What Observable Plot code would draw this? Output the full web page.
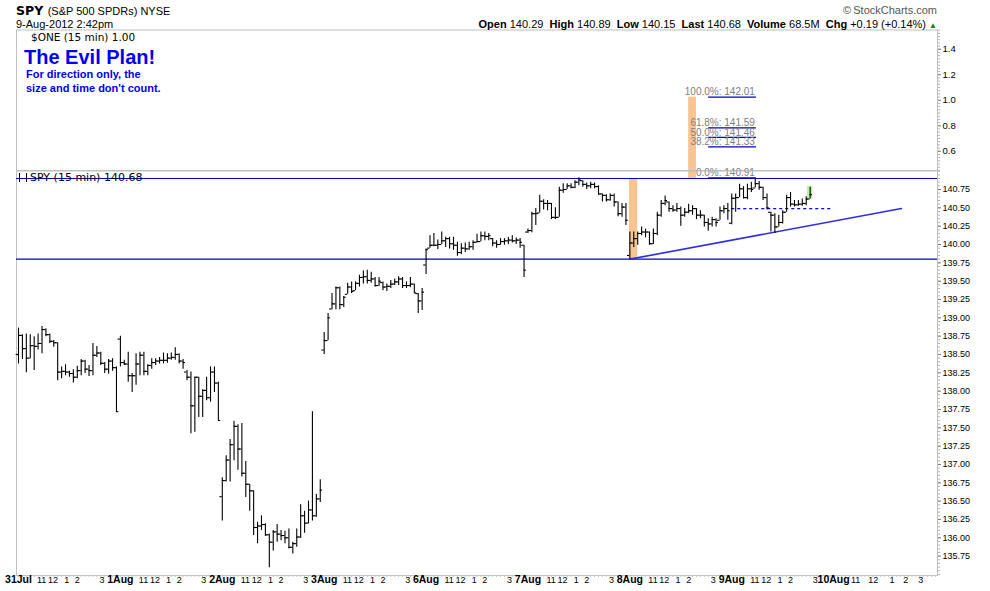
<!DOCTYPE html>
<html><head><meta charset="utf-8">
<script src="https://cdn.jsdelivr.net/npm/d3@7"></script>
<script src="https://cdn.jsdelivr.net/npm/@observablehq/plot@0.6"></script>
<style>
body{margin:0;background:#fff;font-family:"Liberation Sans",Arial,sans-serif;color:#000;}
#wrap{position:relative;width:990px;height:591px;overflow:hidden;}
.abs{position:absolute;white-space:nowrap;}
</style></head><body><div id="wrap"></div>
<script>
// ---- 15-minute OHLC bars, SPY, 31 Jul - 9 Aug 2012 (26 bars per session) ----
const open = [
// 31 Jul
138.50,138.76,138.58,138.45,138.62,138.61,138.65,138.84,138.77,138.68,138.66,138.26,138.27,138.26,138.24,138.19,138.28,138.41,138.30,138.28,138.49,138.52,138.38,138.30,138.41,138.32,
// 1 Aug
138.71,138.39,138.37,138.21,138.21,138.37,138.49,138.27,138.35,138.39,138.41,138.42,138.42,138.45,138.46,138.50,138.41,138.26,138.19,137.80,138.19,137.93,138.01,137.91,138.26,138.11,
// 2 Aug
136.56,136.78,137.06,137.27,137.52,137.21,136.88,136.73,136.64,136.14,136.16,136.18,136.04,135.94,136.08,136.05,136.03,136.00,135.87,135.92,136.01,136.30,136.20,136.38,136.30,136.53,
// 3 Aug
138.56,138.69,139.12,139.19,139.41,139.18,139.32,139.42,139.37,139.47,139.55,139.56,139.51,139.53,139.44,139.48,139.42,139.43,139.46,139.49,139.53,139.44,139.44,139.46,139.33,139.23,
// 6 Aug
139.72,139.95,139.99,139.99,140.00,140.05,140.08,140.01,139.99,139.89,139.95,139.94,139.97,140.03,140.04,140.12,140.11,140.08,140.02,140.00,140.04,140.05,140.06,140.05,140.06,139.99,
// 7 Aug
140.17,140.19,140.42,140.43,140.59,140.56,140.56,140.37,140.37,140.74,140.75,140.80,140.78,140.85,140.87,140.82,140.80,140.82,140.79,140.69,140.67,140.61,140.67,140.58,140.42,140.51,
// 8 Aug
139.85,140.02,140.08,140.15,140.17,140.17,140.01,140.15,140.40,140.56,140.58,140.49,140.47,140.49,140.40,140.44,140.46,140.49,140.40,140.40,140.30,140.28,140.34,140.33,140.46,140.49,
// 9 Aug
140.29,140.63,140.64,140.76,140.64,140.76,140.77,140.83,140.78,140.64,140.44,140.40,140.24,140.30,140.44,140.64,140.55,140.54,140.55,140.56,140.62
];
const high = [
138.86,138.77,138.78,138.77,138.74,138.78,138.88,138.85,138.78,138.69,138.66,138.33,138.36,138.27,138.29,138.34,138.43,138.42,138.35,138.65,138.61,138.53,138.39,138.43,138.44,138.33,
138.75,138.42,138.53,138.24,138.51,138.53,138.53,138.36,138.44,138.44,138.46,138.52,138.51,138.52,138.59,138.51,138.43,138.28,138.26,138.19,138.19,138.02,138.19,138.33,138.33,138.12,
136.82,137.12,137.34,137.59,137.54,137.56,137.04,136.73,136.64,136.21,136.30,136.19,136.05,136.10,136.18,136.10,136.09,136.12,135.94,136.12,136.45,136.36,136.50,137.72,136.59,136.79,
138.80,139.06,139.33,139.42,139.42,139.29,139.47,139.49,139.49,139.58,139.64,139.65,139.62,139.55,139.55,139.49,139.46,139.51,139.53,139.56,139.55,139.49,139.55,139.46,139.33,139.40,
139.94,140.12,140.15,140.06,140.17,140.10,140.10,140.10,140.03,140.01,140.02,140.03,140.05,140.14,140.17,140.17,140.15,140.08,140.05,140.08,140.08,140.10,140.12,140.09,140.08,139.99,
140.21,140.44,140.49,140.67,140.61,140.60,140.56,140.50,140.78,140.83,140.83,140.83,140.87,140.91,140.87,140.84,140.85,140.84,140.80,140.69,140.68,140.69,140.69,140.58,140.56,140.56,
140.17,140.17,140.17,140.24,140.21,140.17,140.21,140.44,140.60,140.66,140.58,140.53,140.56,140.51,140.49,140.55,140.53,140.49,140.46,140.40,140.35,140.37,140.35,140.51,140.53,140.56,
140.69,140.69,140.82,140.79,140.82,140.85,140.89,140.86,140.78,140.69,140.44,140.42,140.40,140.46,140.67,140.71,140.60,140.60,140.62,140.65,140.78
];
const low = [
138.37,138.43,138.25,138.44,138.28,138.56,138.51,138.74,138.65,138.60,138.14,138.17,138.21,138.19,138.11,138.17,138.21,138.24,138.20,138.21,138.46,138.35,138.24,138.23,138.27,137.71,
138.33,138.35,138.12,137.98,138.08,138.21,138.21,138.21,138.30,138.35,138.37,138.37,138.38,138.42,138.42,138.37,138.30,138.14,137.42,137.44,137.64,137.64,137.87,137.85,137.98,137.60,
136.23,136.76,136.76,137.05,136.92,136.83,136.55,136.36,136.03,135.92,136.10,136.02,135.59,135.82,135.94,135.96,135.92,135.85,135.78,135.87,135.99,136.06,136.19,136.23,136.28,136.48,
138.50,138.69,139.11,139.11,139.11,139.14,139.32,139.33,139.37,139.42,139.46,139.46,139.47,139.42,139.43,139.37,139.36,139.40,139.44,139.44,139.40,139.40,139.41,139.33,139.06,139.10,
139.59,139.95,139.97,139.93,140.00,139.96,139.94,139.92,139.84,139.86,139.89,139.92,139.92,140.02,140.04,140.05,140.05,139.97,139.95,139.99,139.99,140.00,140.02,140.00,139.95,139.55,
140.15,140.16,140.26,140.43,140.47,140.46,140.34,140.34,140.37,140.70,140.75,140.76,140.76,140.80,140.78,140.75,140.76,140.76,140.67,140.58,140.58,140.59,140.51,140.38,140.37,140.26,
139.80,139.96,139.99,140.12,140.09,139.99,140.00,140.12,140.37,140.53,140.44,140.44,140.44,140.25,140.37,140.42,140.40,140.34,140.35,140.24,140.18,140.24,140.24,140.33,140.42,140.33,
140.27,140.44,140.64,140.62,140.61,140.71,140.77,140.74,140.60,140.47,140.17,140.15,140.24,140.28,140.44,140.51,140.51,140.52,140.52,140.53,140.62
];
const close = [
138.76,138.58,138.45,138.62,138.61,138.65,138.84,138.77,138.68,138.66,138.26,138.27,138.26,138.24,138.19,138.28,138.41,138.30,138.28,138.49,138.52,138.38,138.30,138.41,138.32,137.72,
138.39,138.37,138.21,138.21,138.37,138.49,138.27,138.35,138.39,138.41,138.42,138.42,138.45,138.46,138.50,138.41,138.39,138.19,137.80,138.19,137.93,138.01,137.91,138.26,138.11,137.60,
136.78,137.06,137.27,137.52,137.21,136.88,136.73,136.64,136.14,136.16,136.18,136.04,135.94,136.08,136.05,136.03,136.00,135.87,135.92,136.01,136.30,136.20,136.38,136.30,136.53,136.65,
138.69,139.00,139.19,139.41,139.18,139.28,139.42,139.36,139.47,139.55,139.56,139.51,139.53,139.44,139.50,139.42,139.43,139.46,139.49,139.53,139.44,139.44,139.46,139.34,139.23,139.35,
139.93,139.99,139.99,140.00,140.05,140.08,140.01,139.99,139.89,139.95,139.94,139.97,140.03,140.04,140.12,140.11,140.12,140.02,140.00,140.04,140.05,140.06,140.05,140.06,140.03,139.65,
140.19,140.42,140.42,140.59,140.56,140.56,140.37,140.37,140.74,140.75,140.80,140.78,140.85,140.88,140.82,140.80,140.82,140.79,140.69,140.67,140.61,140.67,140.58,140.42,140.51,140.33,
140.02,140.08,140.15,140.17,140.17,140.01,140.15,140.40,140.56,140.60,140.49,140.47,140.49,140.40,140.44,140.46,140.49,140.40,140.40,140.30,140.28,140.34,140.30,140.46,140.49,140.46,
140.63,140.64,140.76,140.64,140.76,140.75,140.83,140.78,140.64,140.50,140.40,140.24,140.30,140.44,140.64,140.55,140.54,140.55,140.56,140.62,140.68
];

// ---- axis labels ----
const dayLabels = ["31Jul","1Aug","2Aug","3Aug","6Aug","7Aug","8Aug","9Aug","10Aug"];
const barsPerDay = 26;
const hourLabels = ["11","12","1","2","3"];
const hourOffsets = [5.9, 8.8, 12.3, 15.0, 21.3];        // bar offset of each hour label within a traded session
const futureHourOffsets = [5.6, 10.1, 14.9, 18.4, 22.2];  // 10 Aug (no bars yet)
const priceTicks = [135.75,136.00,136.25,136.50,136.75,137.00,137.25,137.50,137.75,138.00,138.25,138.50,138.75,139.00,139.25,139.50,139.75,140.00,140.25,140.50,140.75];
const oneTicks = [0.6, 0.8, 1.0, 1.2, 1.4];

// ---- annotations (price / bar-index space) ----
const levelLines = [140.90, 139.80];
const fibLevels = [
  {pct:"100.0%", price:142.01},
  {pct:"61.8%",  price:141.59},
  {pct:"50.0%",  price:141.46},
  {pct:"38.2%",  price:141.33},
  {pct:"0.0%",   price:140.91}
];
const fibSpan = {from:176.1, to:188.3};
const fibAnchors = [{x1:155.9, x2:158.0, y1:139.80, y2:140.90}, {x1:171.0, x2:173.0, y1:140.90, y2:142.01}];
const lastBarBox = [{x1:201.3, x2:202.7, y1:140.62, y2:140.79}];
const trendLine = [{i:156, p:139.80}, {i:225.3, p:140.49}];
const pivotLine = [{price:140.49, from:182, to:208}];

const bars = close.map((c, i) => ({i, open: open[i], high: high[i], low: low[i], close: c}));
const dateTicks = dayLabels.map((label, d) => ({label, x: d * barsPerDay}));
const hourTicks = dayLabels.flatMap((_, d) => (d < 8 ? hourOffsets : futureHourOffsets)
  .map((o, k) => ({label: hourLabels[k], x: d * barsPerDay + o})));

const BLUE = "#0000c8";
const font = "Liberation Sans, Arial, sans-serif";

const main = Plot.plot({
  width: 990, height: 591,
  marginTop: 170, marginBottom: 16, marginLeft: 16, marginRight: 53,
  x: {domain: [-0.51, 234.5], axis: null},
  y: {domain: [135.75, 140.75], range: [555.6, 189], axis: null},
  style: {background: "transparent", fontFamily: font, fontSize: "9px", overflow: "visible"},
  marks: [
    Plot.rect(fibAnchors, {x1:"x1", x2:"x2", y1:"y1", y2:"y2", fill:"#f8c592"}),
    Plot.rect(lastBarBox, {x1:"x1", x2:"x2", y1:"y1", y2:"y2", fill:"#bdf0a8"}),
    Plot.frame({stroke:"#c0c0c0"}),
    Plot.axisX(d3.range(0, 235), {tickSize: 2, tickFormat: () => "", stroke: "#c8c8c8", label: null}),
    Plot.axisY(d3.range(135.5, 141.01, 0.05), {anchor:"right", tickSize: 2, tickFormat: () => "", stroke:"#b0b0b0", label: null}),
    Plot.axisY(priceTicks, {anchor:"right", tickSize: 3, tickPadding: 2, tickFormat: d => d.toFixed(2), stroke:"#808080", fill:"#000", fontSize: 9, label: null, letterSpacing: "-0.3px"}),
    Plot.ruleY(levelLines, {stroke: BLUE, strokeWidth: 1.2}),
    Plot.ruleY(pivotLine, {y:"price", x1:"from", x2:"to", stroke:"#0000ee", strokeDasharray:"3,3", strokeWidth: 1.2}),
    Plot.line(trendLine, {x:"i", y:"p", stroke:"#2e2ee0", strokeWidth: 1.6}),
    Plot.ruleX(bars, {x:"i", y1:"low", y2:"high", stroke:"#000", strokeWidth: 1.1}),
    Plot.ruleY(bars, {x1: d => d.i - 0.6, x2: "i", y:"open", stroke:"#000", strokeWidth: 1.1}),
    Plot.ruleY(bars, {x1: "i", x2: d => d.i + 0.6, y:"close", stroke:"#000", strokeWidth: 1.1}),
    Plot.ruleY(fibLevels, {y:"price", x1: () => fibSpan.from, x2: () => fibSpan.to, stroke: BLUE, strokeWidth: 1.2}),
    Plot.text(fibLevels, {x: () => fibSpan.to - 0.4, y:"price", text: d => `${d.pct}: ${d.price.toFixed(2)}`, textAnchor:"end", dy:-5, fill:"#808080", fontSize: 10}),
    Plot.text(hourTicks, {x:"x", text:"label", frameAnchor:"bottom", dy: 7.5, fontSize: 9, fill:"#000", letterSpacing:"-0.6px"}),
    Plot.text(dateTicks, {x:"x", text:"label", frameAnchor:"bottom", dy: 7.5, fontSize: 10.5, fontWeight:"bold", fill:"#000"})
  ]
});
main.style.position = "absolute"; main.style.left = "0px"; main.style.top = "0px";

const upper = Plot.plot({
  width: 990, height: 142,
  marginTop: 0.5, marginBottom: 0.5, marginLeft: 16, marginRight: 53,
  x: {domain: [0, 1], axis: null},
  y: {domain: [0.4455, 1.551], axis: null},
  style: {background: "transparent", fontFamily: font, fontSize: "9px", overflow: "visible"},
  marks: [
    Plot.frame({stroke:"#c0c0c0"}),
    Plot.axisY(d3.range(0.45, 1.551, 0.025), {anchor:"right", tickSize: 2, tickFormat: () => "", stroke:"#b0b0b0", label: null}),
    Plot.axisY(oneTicks, {anchor:"right", tickSize: 3, tickPadding: 2, tickFormat: d => d.toFixed(1), stroke:"#808080", fill:"#000", fontSize: 9.5, label: null})
  ]
});
upper.style.position = "absolute"; upper.style.left = "0px"; upper.style.top = "28.5px";

const wrap = document.getElementById("wrap");
wrap.appendChild(main);
wrap.appendChild(upper);

function addText(html, style) {
  const d = document.createElement("div");
  d.className = "abs";
  d.innerHTML = html;
  Object.assign(d.style, style);
  wrap.appendChild(d);
}
addText('<b style="font-family:DejaVu Sans;font-size:12.5px">SPY</b> <span style="font-size:11px">(S&amp;P 500 SPDRs) NYSE</span>', {left:"16px", top:"3px", lineHeight:"14px"});
addText('9-Aug-2012 2:42pm', {left:"16px", top:"18px", fontSize:"11px", lineHeight:"12px"});
addText('©&thinsp;StockCharts.com', {right:"53px", top:"4px", fontSize:"11px", lineHeight:"12px", color:"#555"});
addText('<b>Open</b> 140.29&nbsp; <b>High</b> 140.89&nbsp; <b>Low</b> 140.15&nbsp; <b>Last</b> 140.68&nbsp; <b>Volume</b> 68.5M&nbsp; <b>Chg</b> +0.19 (+0.14%) <span style="color:#1f7a1f;font-size:8px">▲</span>',
  {right:"53px", top:"18px", fontSize:"11px", lineHeight:"12px"});
addText('$ONE (15 min) 1.00', {left:"31px", top:"31px", fontSize:"10.5px", lineHeight:"12px", fontFamily:"DejaVu Sans"});
addText('The Evil Plan!', {left:"24px", top:"46px", fontSize:"20px", lineHeight:"22px", color:"#0000ee", fontWeight:"bold"});
addText('For direction only, the', {left:"26px", top:"68px", fontSize:"11px", lineHeight:"12px", color:"#0000ee", fontWeight:"bold"});
addText('size and time don\'t count.', {left:"26px", top:"82px", fontSize:"11px", lineHeight:"12px", color:"#0000ee", fontWeight:"bold"});
addText('<span style="display:inline-block;width:8px;height:9px;position:relative;top:1px;margin-right:3px;border-left:1px solid #000;border-right:1px solid #000;box-sizing:border-box"></span>SPY (15 min) 140.68',
  {left:"19px", top:"172px", fontSize:"11px", lineHeight:"12px", fontFamily:"DejaVu Sans"});
</script></body></html>
